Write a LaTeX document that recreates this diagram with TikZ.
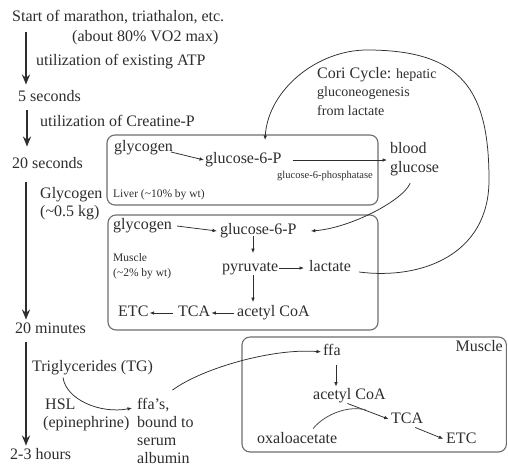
\documentclass[tikz,border=0pt]{standalone}
\usepackage{fontspec}
\setmainfont{Liberation Serif}
\usetikzlibrary{arrows.meta,calc}
\definecolor{ink}{HTML}{2E2E2E}
\definecolor{boxc}{HTML}{6E6E6E}
\tikzset{
  lbl/.style={inner sep=0pt, anchor=west, text=ink, font=\fontsize{16}{18.5}\selectfont, text height=11pt, text depth=3.5pt},
  mlbl/.style={inner sep=0pt, anchor=west, text=ink, font=\fontsize{16}{18.5}\selectfont, align=left},
  smalllbl/.style={inner sep=0pt, anchor=west, text=ink, font=\fontsize{11.5}{15.5}\selectfont, text height=8pt, text depth=2.5pt},
  smallmlbl/.style={inner sep=0pt, anchor=west, text=ink, font=\fontsize{11.5}{15.5}\selectfont, align=left},
  tinylbl/.style={inner sep=0pt, anchor=west, text=ink, font=\fontsize{10.5}{12}\selectfont, text height=7pt, text depth=2pt},
  corilbl/.style={inner sep=0pt, anchor=west, text=ink, font=\fontsize{14}{18.5}\selectfont, align=left},
  timearr/.style={draw=ink, line width=1.7pt, -{Stealth[length=10pt,width=8pt]}},
  arr/.style={draw=ink, line width=0.75pt, -{Latex[length=4.5pt,width=3.6pt]}},
  plainline/.style={draw=ink!85, line width=0.8pt},
  panel/.style={draw=boxc, line width=1.1pt, rounded corners=8pt},
}
\begin{document}
\begin{tikzpicture}[x=1pt,y=-1pt]
\useasboundingbox (0,0) rectangle (508,467);
\fill[white] (0,0) rectangle (508,467);

% panels
\draw[panel] (107,135) rectangle (378,205);
\draw[panel] (108,215) rectangle (378,330);
\draw[panel] (242,337) rectangle (506.4,452);

% timeline
\node[lbl] (start) at (12,18) {Start of marathon, triathalon, etc.};
\node[lbl] (about) at (72,38) {(about 80\% VO2 max)};
\node[lbl] (atp) at (36,62) {utilization of existing ATP};
\node[lbl] (sec5) at (18,98) {5 seconds};
\node[lbl] (crp) at (40,123) {utilization of Creatine-P};
\node[lbl] (sec20) at (12,165) {20 seconds};
\node[mlbl] (glyc) at (40,203.5) {Glycogen\\(\textasciitilde0.5 kg)};
\node[lbl] (min20) at (15,330) {20 minutes};
\node[lbl] (tg) at (32,368) {Triglycerides (TG)};
\node[mlbl] (hsl) at (43,415) {\hspace{2pt}HSL\\(epinephrine)};
\node[mlbl, font=\fontsize{16}{18}\selectfont] (ffas) at (137,431) {ffa's,\\bound to\\serum\\albumin};
\node[lbl] (hours) at (10,456) {2-3 hours};

\draw[timearr] ([xshift=14pt,yshift=-7pt]start.south west) -- ([xshift=8pt,yshift=6pt]sec5.north west);
\draw[timearr] ([xshift=9pt,yshift=-5pt]sec5.south west) -- ([xshift=15pt,yshift=11pt]sec20.north west);
\draw[timearr] ([xshift=14pt,yshift=-10pt]sec20.south west) -- ([xshift=11pt,yshift=3pt]min20.north west);
\draw[timearr] ([xshift=11pt,yshift=-5pt]min20.south west) -- ([xshift=16pt,yshift=3pt]hours.north west);

% liver
\node[lbl] (glyL) at (114,148) {glycogen};
\node[lbl] (g6pL) at (205,160) {glucose-6-P};
\node[tinylbl] (phos) at (277,176) {glucose-6-phosphatase};
\node[smalllbl] (liver) at (113,195) {Liver (\textasciitilde10\% by wt)};
\node[mlbl] (blood) at (390,159) {blood\\glucose};
\node[corilbl] (cori) at (317,91.5) {{\fontsize{16}{18.5}\selectfont Cori Cycle:} hepatic\\gluconeogenesis\\from lactate};

% muscle (glycogen)
\node[lbl] (glyM) at (113,226) {glycogen};
\node[lbl] (g6pM) at (220,231) {glucose-6-P};
\node[smallmlbl] (musc) at (113,266) {Muscle\\(\textasciitilde2\% by wt)};
\node[lbl] (pyr) at (222,268) {pyruvate};
\node[lbl] (lac) at (309,268) {lactate};
\node[lbl] (acoA) at (237,313) {acetyl CoA};
\node[lbl] (tca) at (178,313) {TCA};
\node[lbl] (etc) at (118,313) {ETC};

% muscle (fat)
\node[lbl, anchor=east] (muscle2) at (503,348) {Muscle};
\node[lbl] (ffa) at (323,352) {ffa};
\node[lbl] (acoA2) at (313,396) {acetyl CoA};
\node[lbl] (tca2) at (391,420) {TCA};
\node[lbl] (etc2) at (446,440) {ETC};
\node[lbl] (oxa) at (257,440) {oxaloacetate};

\coordinate (vx) at (253,0);
\coordinate (vx2) at (336,0);
\coordinate (coriR) at (489,180);
\coordinate (coriT) at (367,50);
\coordinate (coriEnd) at (265,140);
\coordinate (join) at ($(acoA2.south)!0.4!(tca2.west)$);

% liver connectors
\draw[arr] ([xshift=-2pt,yshift=-4pt]glyL.east) -- ([xshift=-1pt]g6pL.west);
\draw[arr, shorten >=3pt] ([xshift=11pt]g6pL.east) -- (g6pL.east -| blood.west);
\draw[arr] ([xshift=-4.5pt,yshift=-7.5pt]blood.south) .. controls +(-7,17) and +(40,-3) .. ([xshift=14pt]g6pM.east);
\draw[arr] ([xshift=8pt,yshift=-4pt]lac.east) .. controls +(62,8) and +(0,75) .. (coriR)
  .. controls +(0,-90) and +(95,0) .. (coriT)
  .. controls +(-50,0) and +(3,-50) .. (coriEnd);

% muscle 1 connectors
\draw[arr] ([xshift=5pt]glyM.east) -- ([xshift=-3pt]g6pM.west);
\draw[arr, shorten <=-2pt, shorten >=7.5pt] (vx |- g6pM.south) -- (vx |- pyr.north);
\draw[arr, shorten >=3.5pt] (vx |- pyr.south) -- (vx |- acoA.north);
\draw[arr, shorten >=5pt] ([xshift=1pt]pyr.east) -- (lac.west);
\draw[arr, shorten <=3pt, shorten >=1pt] (acoA.west) -- (tca.east);
\draw[arr, shorten <=5pt, shorten >=1pt] (tca.west) -- (etc.east);

% fat connectors
\draw[arr] ([xshift=31pt,yshift=-2pt]tg.south west) .. controls +(3,22) and +(-32,6) .. ([xshift=-5pt,yshift=-10pt]ffas.north west);
\draw[arr, shorten >=2pt] ([xshift=7pt,yshift=8pt]ffas.north) .. controls +(30,-22) and +(-50,-4) .. (ffa.west);
\draw[arr, shorten <=6pt, shorten >=2pt] (vx2 |- ffa.south) -- (vx2 |- acoA2.north);
\draw[arr, shorten >=2.5pt] ([xshift=-2pt]acoA2.south) -- (tca2.west);
\draw[arr, shorten >=3pt] ([xshift=8pt]tca2.south) -- (etc2.west);
\draw[plainline] ([xshift=16pt,yshift=4pt]oxa.north) .. controls +(12,-15) and +(-16,-5) .. (join);
\end{tikzpicture}
\end{document}
